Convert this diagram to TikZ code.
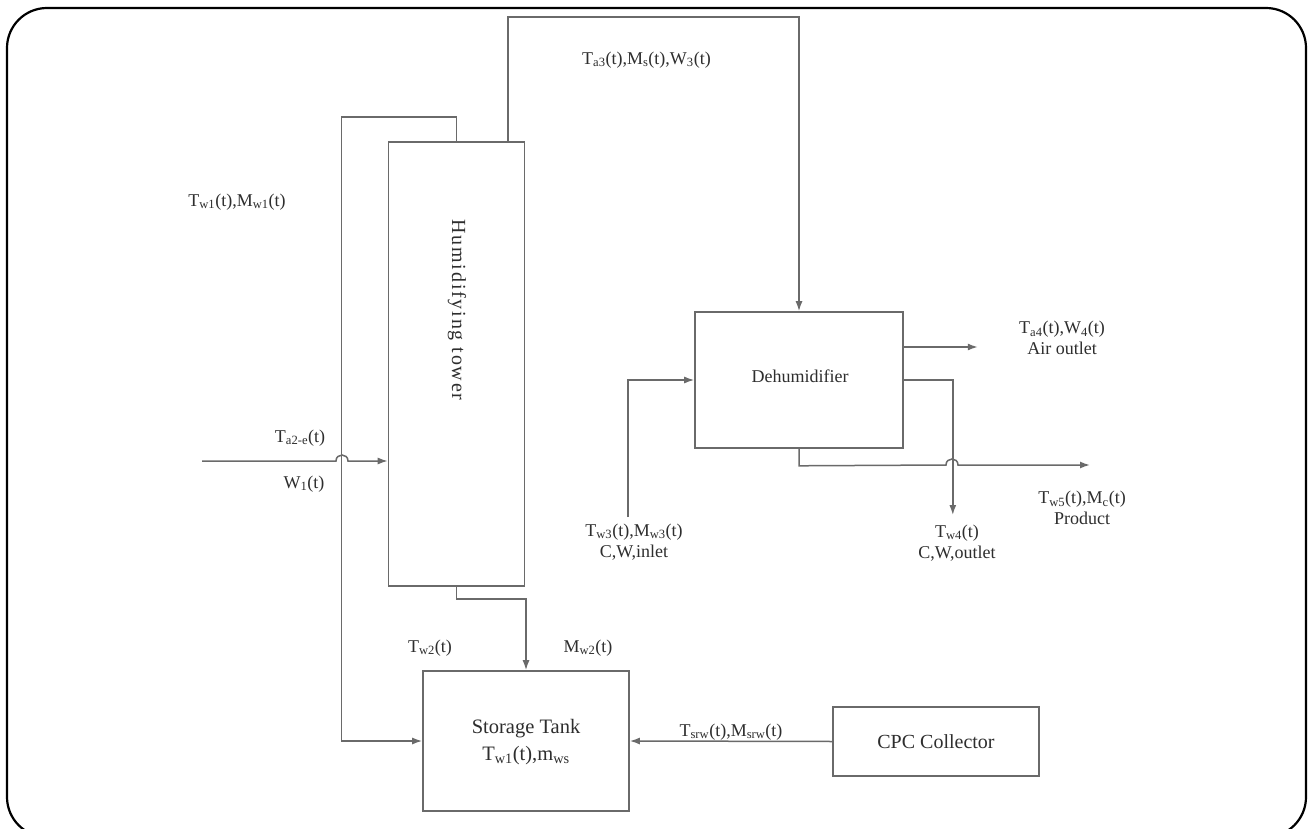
\documentclass[tikz,border=0pt]{standalone}
\usepackage{fontspec}
\setmainfont{Liberation Serif}
\usetikzlibrary{arrows.meta,calc}
\definecolor{ln}{HTML}{6A6A6A}
\definecolor{tx}{HTML}{2E2E2E}
\tikzset{
  blk/.style={draw=ln, line width=1.6pt, rectangle, inner sep=0pt, text=tx, font=\fontsize{18}{22}\selectfont, align=center},
  flow/.style={draw=ln, line width=1.5pt},
  arr/.style={flow, -{Latex[length=10pt,width=7pt]}},
  lbl/.style={text=tx, font=\fontsize{18}{21}\selectfont, align=center, inner sep=0pt},
}
\newcommand{\sub}[1]{\textsubscript{#1}}
\begin{document}
\begin{tikzpicture}[x=1pt,y=-1pt]
\useasboundingbox (0,0) rectangle (1309,829);
\fill[white] (0,0) rectangle (1309,829);
\draw[line width=2.2pt, rounded corners=40pt] (7,8) rectangle (1306,837);

% blocks
\node[blk, minimum width=136pt, minimum height=444pt] (tower) at (456.5,364) {};
\node[text=tx, font=\fontsize{20}{22}\selectfont\addfontfeatures{LetterSpace=9}, rotate=-90] (towerlbl) at (457,310) {Humidifying tower};
\node[blk, minimum width=208pt, minimum height=136pt] (dehum) at (799,380) {};
\node[text=tx, font=\fontsize{18}{22}\selectfont] (dehumlbl) at (800,376) {Dehumidifier};
\node[blk, minimum width=206pt, minimum height=140pt] (storage) at (526,741) {};
\node[text=tx, font=\fontsize{20.5}{27}\selectfont, align=center] (storagelbl) at (526,742) {Storage Tank\\T\sub{w1}(t),m\sub{ws}};
\node[blk, minimum width=206pt, minimum height=69pt, font=\fontsize{20}{24}\selectfont] (cpc) at (936,741.5) {CPC Collector};

% coordinates of free ends
\coordinate (ain) at (202,461);
\coordinate (cwin) at (628,517);

% connectors
\draw[arr] ([xshift=51.5pt]tower.north) -- ++(0,-124) -| (dehum.north);
\draw[arr] (tower.north) -- ++(0,-24) -- ++(-115,0) |- (storage.west);
\draw[arr] (ain) -- (336,461) .. controls (336,453) and (348,453) .. (348,461) -- (tower.west |- ain);
\draw[arr] (tower.south) -- ++(0,12) -| (storage.north);
\draw[arr] (cpc.west) -- (storage.east);
\draw[arr] (cwin) |- (dehum.west);
\draw[arr] ([yshift=33pt]dehum.east) -- ++(74,0);
\draw[arr] (dehum.east) -- ++(49,0) -- ++(0,135);
\draw[arr] (dehum.south) -- ++(0,17) -- (946,465) .. controls (946,457) and (958,457) .. (958,465) -- (1090,465);

% labels
\node[lbl] (l1) at (237,202) {T\sub{w1}(t),M\sub{w1}(t)};
\node[lbl, anchor=west] (l2) at (582,60) {T\sub{a3}(t),M\sub{s}(t),W\sub{3}(t)};
\node[lbl] (l3) at (300,438) {T\sub{a2-e}(t)};
\node[lbl] (l4) at (304,484) {W\sub{1}(t)};
\node[lbl] (l5) at (1062,338) {T\sub{a4}(t),W\sub{4}(t)\\Air outlet};
\node[lbl] (l6) at (634,542) {T\sub{w3}(t),M\sub{w3}(t)\\C,W,inlet};
\node[lbl] (l7) at (957,543) {T\sub{w4}(t)\\C,W,outlet};
\node[lbl] (l8) at (1082,508) {T\sub{w5}(t),M\sub{c}(t)\\Product};
\node[lbl] (l9) at (430,648) {T\sub{w2}(t)};
\node[lbl] (l10) at (588,648) {M\sub{w2}(t)};
\node[lbl] (l11) at (731,732) {T\sub{srw}(t),M\sub{srw}(t)};
\end{tikzpicture}
\end{document}
